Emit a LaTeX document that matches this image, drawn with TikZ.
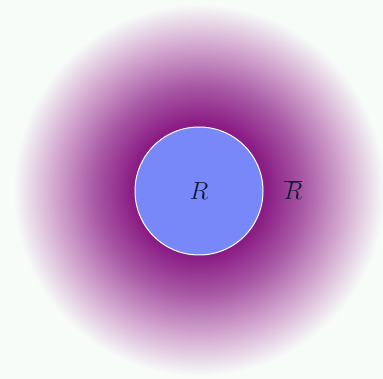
\documentclass[tikz,border=0pt]{standalone}
\usepackage{tikz}
\definecolor{bgc}{RGB}{247,252,249}
\definecolor{purp}{RGB}{138,28,132}
\definecolor{purpmid}{RGB}{168,88,165}
\definecolor{purplight}{RGB}{215,175,212}
\definecolor{blob}{RGB}{120,136,248}
\definecolor{ink}{RGB}{20,25,60}
\pgfdeclareradialshading{glow}{\pgfpoint{0bp}{0bp}}{%
  color(0bp)=(purp); color(9bp)=(purp); color(14bp)=(purpmid);
  color(20bp)=(purplight); color(25bp)=(bgc); color(50bp)=(bgc)}
\tikzset{
  region/.style={circle, fill=blob, draw=white, line width=1pt, minimum size=128pt, inner sep=0pt},
  lbl/.style={font=\fontsize{24}{28}\selectfont, text=ink}
}
\begin{document}
\begin{tikzpicture}[x=1pt,y=-1pt]
\useasboundingbox (0,0) rectangle (383,379);
\fill[bgc] (0,0) rectangle (383,379);
\shade[shading=glow] (199,190) circle (186);
\node[region] (R) at (199,191) {};
\node[lbl] (rt) at (R) {$R$};
\node[lbl] (rb) at (293,190) {$\overline{R}$};
\end{tikzpicture}
\end{document}
